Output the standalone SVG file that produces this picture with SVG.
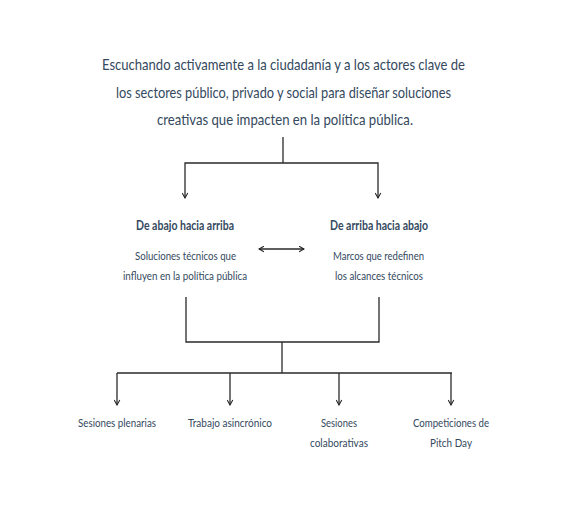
<svg xmlns="http://www.w3.org/2000/svg" width="568" height="505" viewBox="0 0 568 505">
<defs>
<marker id="ah" viewBox="0 0 10 10" refX="9" refY="5" markerWidth="7" markerHeight="7" orient="auto-start-reverse" markerUnits="userSpaceOnUse">
<path d="M2,1 L9,5 L2,9" fill="none" stroke="#222" stroke-width="1.5"/>
</marker>
</defs>
<style>
text{font-family:Lato,"Noto Sans",sans-serif;fill:#34495e;text-anchor:middle}
.t{font-size:16px}
.h{font-size:13px;font-weight:bold}
.s{font-size:12px}
.c{fill:none;stroke:#2a2a2a;stroke-width:1.3}
</style>
<rect width="568" height="505" fill="#fff"/>
<g id="title">
<text class="t" x="283.5" y="69.5" textLength="363" lengthAdjust="spacingAndGlyphs">Escuchando activamente a la ciudadanía y a los actores clave de</text>
<text class="t" x="283.5" y="97.5" textLength="335" lengthAdjust="spacingAndGlyphs">los sectores público, privado y social para diseñar soluciones</text>
<text class="t" x="285" y="124.5" textLength="256" lengthAdjust="spacingAndGlyphs">creativas que impacten en la política pública.</text>
</g>
<g id="connectors">
<polyline class="c" points="283,137 283,163"/>
<polyline class="c" points="185,198 185,163 378,163 378,198" marker-start="url(#ah)" marker-end="url(#ah)"/>
<line class="c" x1="259" y1="249" x2="304" y2="249" marker-start="url(#ah)" marker-end="url(#ah)"/>
<polyline class="c" points="186,297 186,342 379,342 379,297"/>
<polyline class="c" points="282,342 282,373"/>
<polyline class="c" points="117,373 452,373"/>
<line class="c" x1="117" y1="373" x2="117" y2="405" marker-end="url(#ah)"/>
<line class="c" x1="230" y1="373" x2="230" y2="405" marker-end="url(#ah)"/>
<line class="c" x1="339" y1="373" x2="339" y2="405" marker-end="url(#ah)"/>
<line class="c" x1="451" y1="373" x2="451" y2="405" marker-end="url(#ah)"/>
</g>
<g id="bottom-up">
<text class="h" x="185" y="229.5" textLength="98" lengthAdjust="spacingAndGlyphs">De abajo hacia arriba</text>
<text class="s" x="185.5" y="260" textLength="101" lengthAdjust="spacingAndGlyphs">Soluciones técnicos que</text>
<text class="s" x="185" y="280" textLength="124" lengthAdjust="spacingAndGlyphs">influyen en la política pública</text>
</g>
<g id="top-down">
<text class="h" x="379" y="229.5" textLength="98" lengthAdjust="spacingAndGlyphs">De arriba hacia abajo</text>
<text class="s" x="378.5" y="260" textLength="91" lengthAdjust="spacingAndGlyphs">Marcos que redefinen</text>
<text class="s" x="379" y="280" textLength="88" lengthAdjust="spacingAndGlyphs">los alcances técnicos</text>
</g>
<g id="plenarias"><text class="s" x="117" y="427" textLength="78" lengthAdjust="spacingAndGlyphs">Sesiones plenarias</text></g>
<g id="asincronico"><text class="s" x="230" y="427" textLength="84" lengthAdjust="spacingAndGlyphs">Trabajo asincrónico</text></g>
<g id="colaborativas"><text class="s" x="339" y="427" textLength="36" lengthAdjust="spacingAndGlyphs">Sesiones</text><text class="s" x="339" y="447" textLength="58" lengthAdjust="spacingAndGlyphs">colaborativas</text></g>
<g id="pitch"><text class="s" x="451" y="427" textLength="76" lengthAdjust="spacingAndGlyphs">Competiciones de</text><text class="s" x="451" y="447" textLength="42" lengthAdjust="spacingAndGlyphs">Pitch Day</text></g>
</svg>
